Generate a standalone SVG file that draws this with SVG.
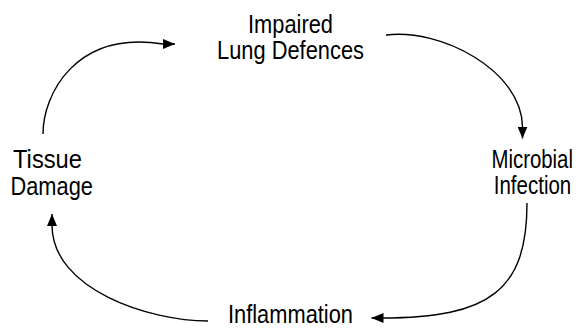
<svg xmlns="http://www.w3.org/2000/svg" width="578" height="328" viewBox="0 0 578 328">
<style>
  .lbl { font-family: "Liberation Sans", Arial, sans-serif; font-size: 25px; fill: #000; text-anchor: middle; }
  .arc { fill: none; stroke: #000; stroke-width: 1.4; marker-end: url(#ah); }
</style>
<defs>
  <marker id="ah" markerUnits="userSpaceOnUse" markerWidth="12" markerHeight="10" refX="12" refY="5" orient="auto">
    <path d="M0,0 L12,5 L0,10 z" fill="#000"/>
  </marker>
</defs>
<rect width="578" height="328" fill="#fff"/>
<g id="connectors">
  <path class="arc" d="M43,134 C43,95 75,30 163,44 L175,44"/>
  <path class="arc" d="M386,35 C440,28 522,70 522.5,127 L522.5,138.5"/>
  <path class="arc" d="M527,203 C527,290 490,318 382,318 L371.5,318"/>
  <path class="arc" d="M208,321 C150,321 52,290 52,225 L52,214"/>
</g>
<g id="impaired">
  <text class="lbl" x="0" y="0" transform="translate(290.5,33.3) scale(0.874,1)">Impaired</text>
  <text class="lbl" x="0" y="0" transform="translate(290.5,59.3) scale(0.874,1)">Lung Defences</text>
</g>
<g id="microbial">
  <text class="lbl" x="0" y="0" transform="translate(532.2,168.3) scale(0.815,1)">Microbial</text>
  <text class="lbl" x="0" y="0" transform="translate(532.5,194.3) scale(0.82,1)">Infection</text>
</g>
<g id="inflammation">
  <text class="lbl" x="0" y="0" transform="translate(290.5,322.6) scale(0.874,1)">Inflammation</text>
</g>
<g id="tissue">
  <text class="lbl" x="0" y="0" transform="translate(47.5,168.3) scale(0.95,1)">Tissue</text>
  <text class="lbl" x="0" y="0" transform="translate(51.7,194.5) scale(0.873,1)">Damage</text>
</g>
</svg>
